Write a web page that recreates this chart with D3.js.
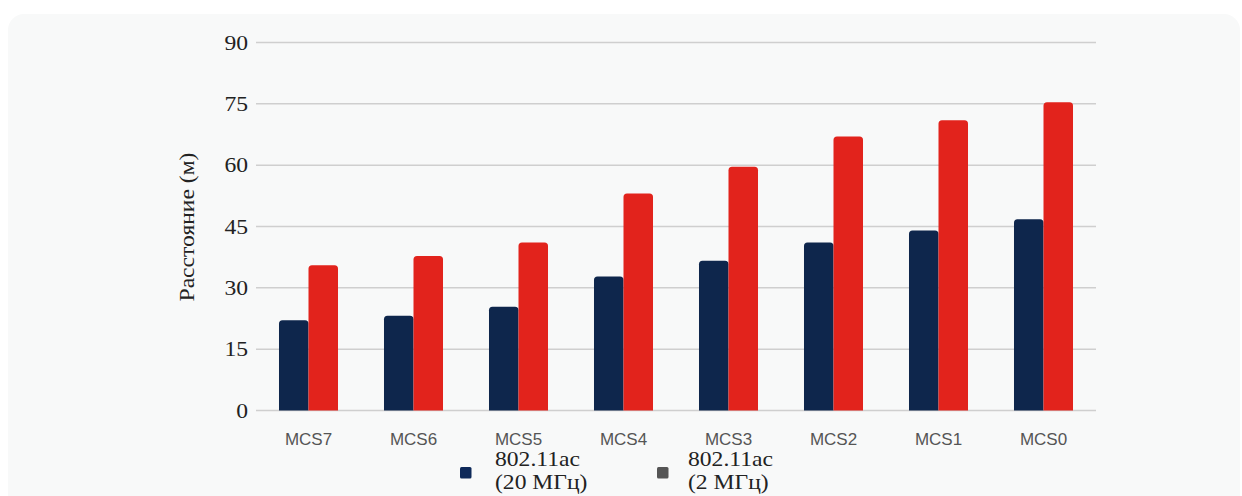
<!DOCTYPE html>
<html><head><meta charset="utf-8">
<script src="https://cdn.jsdelivr.net/npm/d3@7"></script>
<style>html,body{margin:0;padding:0;background:#fff;}svg{display:block;}</style>
</head><body>
<svg id="c" width="1242" height="496"></svg>
<script>
const categories = ["MCS7","MCS6","MCS5","MCS4","MCS3","MCS2","MCS1","MCS0"];
const seriesNames = ["802.11ac (20 МГц)", "802.11ac (2 МГц)"];
const values20 = [22.1, 23.2, 25.4, 32.8, 36.6, 41.1, 44.0, 46.8];
const values2 = [35.5, 37.8, 41.1, 53.1, 59.6, 67.0, 71.0, 75.4];
const yTicks = [0, 15, 30, 45, 60, 75, 90];
const legendLines = [["802.11ac", "(20 МГц)"], ["802.11ac", "(2 МГц)"]];
const barColors = ["#0e264c", "#e2231c"];
const legendColors = ["#0e2a5a", "#555555"];

const SERIF = "'Liberation Serif', 'Times New Roman', serif";
const STRETCH = 1.18;

const svg = d3.select("#c");
svg.append("rect").attr("x", 8).attr("y", 14).attr("width", 1232).attr("height", 500)
  .attr("rx", 16).attr("fill", "#f8f9f9");

const x = d3.scaleBand().domain(categories).range([256, 1096]).paddingInner(0.438).paddingOuter(0.219);
const xs = d3.scaleBand().domain([0, 1]).range([0, x.bandwidth()]);
const y = d3.scaleLinear().domain([0, 90]).range([410.5, 42.5]);

// grid
svg.append("g").selectAll("line").data(yTicks).join("line")
  .attr("x1", 256).attr("x2", 1096)
  .attr("y1", d => y(d)).attr("y2", d => y(d))
  .attr("stroke", "#cfcfcf").attr("stroke-width", 1.5);

// y tick labels
svg.append("g").selectAll("g").data(yTicks).join("g")
  .attr("transform", d => `translate(248,${y(d)}) scale(${STRETCH},1)`)
  .append("text").attr("dy", "0.35em")
  .attr("text-anchor", "end")
  .attr("font-family", SERIF)
  .attr("font-size", 20).attr("fill", "#222").text(d => d);

// y title
svg.append("g").attr("transform", `translate(194,227) rotate(-90) scale(${STRETCH},1)`)
  .append("text")
  .attr("text-anchor", "middle")
  .attr("font-family", SERIF)
  .attr("font-size", 20).attr("fill", "#222").text("Расстояние (м)");

function topRounded(x0, y0, w, h, r) {
  r = Math.min(r, h, w / 2);
  return `M${x0},${y0 + h}V${y0 + r}Q${x0},${y0} ${x0 + r},${y0}H${x0 + w - r}Q${x0 + w},${y0} ${x0 + w},${y0 + r}V${y0 + h}Z`;
}

const series = [values20, values2];
series.forEach((vals, si) => {
  svg.append("g").selectAll("path").data(categories).join("path")
    .attr("d", (c, i) => {
      const x0 = x(c) + xs(si);
      const y0 = y(vals[i]);
      return topRounded(x0, y0, xs.bandwidth(), y(0) - y0, 3.5);
    })
    .attr("fill", barColors[si]);
});

// x labels
svg.append("g").selectAll("text").data(categories).join("text")
  .attr("x", d => x(d) + x.bandwidth() / 2).attr("y", 445)
  .attr("text-anchor", "middle")
  .attr("font-family", "'Liberation Sans', Arial, sans-serif")
  .attr("font-size", 17).attr("fill", "#555").text(d => d);

// legend
const legX = [460, 657];
const legTextX = [495, 688];
legendLines.forEach((lines, i) => {
  svg.append("rect").attr("x", legX[i]).attr("y", 467).attr("width", 11.5).attr("height", 11.5)
    .attr("rx", 1.5).attr("fill", legendColors[i]);
  lines.forEach((t, j) => {
    svg.append("g").attr("transform", `translate(${legTextX[i]},${466 + j * 23}) scale(${STRETCH},1)`)
      .append("text")
      .attr("font-family", SERIF)
      .attr("font-size", 20).attr("fill", "#222").text(t);
  });
});
</script>
</body></html>
